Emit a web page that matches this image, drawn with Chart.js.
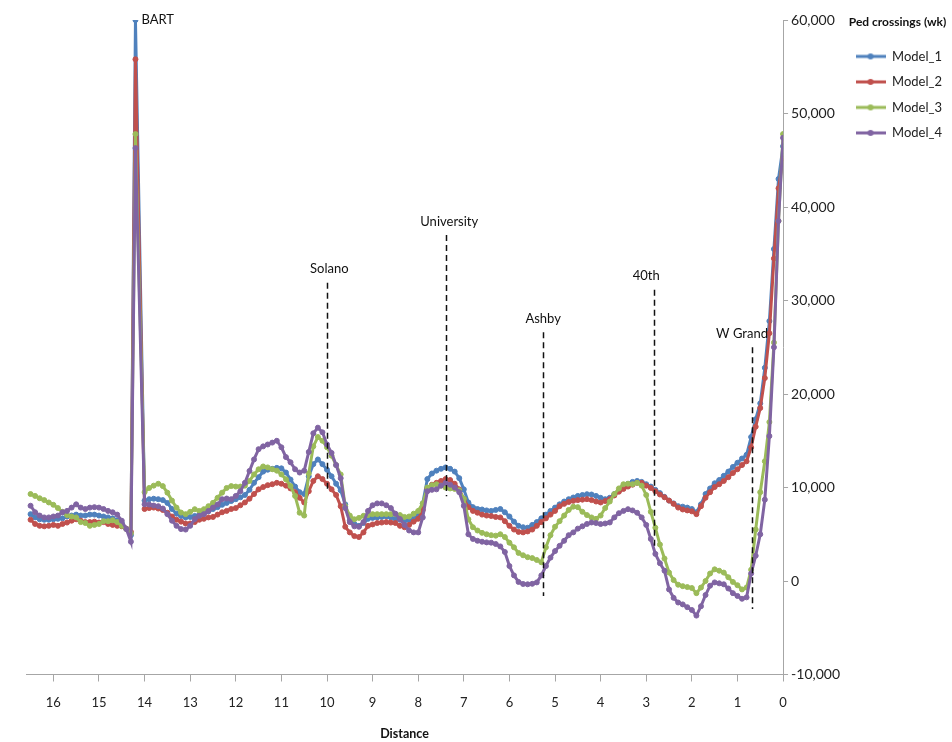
<!DOCTYPE html>
<html>
<head>
<meta charset="utf-8">
<title>Ped crossings (wk)</title>
<script src="https://cdn.jsdelivr.net/npm/chart.js@4/dist/chart.umd.min.js"></script>
<style>
  html, body { margin: 0; padding: 0; background: #fff; }
  #wrap { width: 952px; height: 742px; }
</style>
</head>
<body>
<div id="wrap"><canvas id="chart"></canvas></div>
<script>
// --- Datos (distancia en millas, cruces peatonales por semana) ---
const distances = [
  16.5, 16.4, 16.3, 16.2, 16.1, 16.0, 15.9, 15.8, 15.7, 15.6,
  15.5, 15.4, 15.3, 15.2, 15.1, 15.0, 14.9, 14.8, 14.7, 14.6,
  14.5, 14.4, 14.3, 14.2,
  14.0, 13.9, 13.8, 13.7, 13.6, 13.5, 13.4, 13.3, 13.2, 13.1,
  13.0, 12.9, 12.8, 12.7, 12.6, 12.5, 12.4, 12.3, 12.2, 12.1,
  12.0, 11.9, 11.8, 11.7, 11.6, 11.5, 11.4, 11.3, 11.2, 11.1,
  11.0, 10.9, 10.8, 10.7, 10.6, 10.5, 10.4, 10.3, 10.2, 10.1,
  10.0, 9.9, 9.8, 9.7, 9.6, 9.5, 9.4, 9.3, 9.2, 9.1,
  9.0, 8.9, 8.8, 8.7, 8.6, 8.5, 8.4, 8.3, 8.2, 8.1,
  8.0, 7.9, 7.8, 7.7, 7.6, 7.5, 7.4, 7.3, 7.2, 7.1,
  7.0, 6.9, 6.8, 6.7, 6.6, 6.5, 6.4, 6.3, 6.2, 6.1,
  6.0, 5.9, 5.8, 5.7, 5.6, 5.5, 5.4, 5.3, 5.2, 5.1,
  5.0, 4.9, 4.8, 4.7, 4.6, 4.5, 4.4, 4.3, 4.2, 4.1,
  4.0, 3.9, 3.8, 3.7, 3.6, 3.5, 3.4, 3.3, 3.2, 3.1,
  3.0, 2.9, 2.8, 2.7, 2.6, 2.5, 2.4, 2.3, 2.2, 2.1,
  2.0, 1.9, 1.8, 1.7, 1.6, 1.5, 1.4, 1.3, 1.2, 1.1,
  1.0, 0.9, 0.8, 0.7, 0.6, 0.5, 0.4, 0.3, 0.2, 0.1,
  0.0
];

const model1 = [
  7150, 6800, 6600, 6550, 6550, 6600, 6650, 6700, 6900, 7000,
  7100, 7000, 7000, 7100, 7100, 7000, 6900, 6800, 6700, 6500,
  6200, 5600, 4900, 60000,
  8600, 8750, 8800, 8750, 8650, 8350, 7700, 7200, 6950, 6800,
  6850, 6950, 7100, 7250, 7450, 7700, 7900, 8150, 8350, 8550,
  8750, 8950, 9200, 9750, 10500, 11100, 11700, 11900, 12000, 12100,
  12050, 11600, 10850, 10100, 9500, 9300, 11200, 12500, 13000, 12500,
  11900, 11200, 10400, 9700, 8200, 6450, 6100, 5900, 6200, 6650,
  6750, 6800, 6850, 6900, 6800, 6650, 6550, 6450, 6500, 6650,
  7000, 8300, 10900, 11500, 11800, 12000, 12150, 12000, 11700, 11000,
  9800, 8400, 7900, 7700, 7650, 7550, 7500, 7600, 7700, 7350,
  6900, 6350, 5900, 5750, 5700, 6000, 6300, 6700, 7100, 7500,
  7850, 8200, 8500, 8750, 8930, 9100, 9200, 9280, 9250, 9100,
  8900, 8750, 8900, 9300, 9650, 10100, 10400, 10600, 10700, 10600,
  10350, 10100, 9750, 9400, 9000, 8600, 8300, 8000, 7950, 7850,
  7700, 7350, 8200, 9300, 9900, 10450, 10800, 11250, 11700, 12200,
  12650, 13100, 13500, 15400, 17300, 19000, 22800, 27800, 35500, 43000,
  46500
];

const model2 = [
  6550, 6100, 5900, 5850, 5900, 6000, 5900, 6100, 6250, 6450,
  6600, 6450, 6300, 6300, 6350, 6250, 6300, 6100, 6000, 5900,
  5850, 5600, 5250, 55800,
  7700, 7800, 7850, 7750, 7600, 7300, 6900, 6550, 6350, 6150,
  6150, 6300, 6550, 6650, 6800, 6850, 7100, 7350, 7500, 7700,
  7800, 8100, 8400, 8800, 9300, 9800, 10050, 10250, 10350, 10500,
  10400, 10200, 9900, 9500, 8900, 8400, 9600, 10700, 11200, 10900,
  10400, 9800, 9200, 8000, 5800, 5200, 4800, 4700, 5200, 5900,
  6050, 6200, 6250, 6300, 6250, 6200, 5900, 5750, 6000, 6350,
  6650, 7600, 9900, 10300, 10500, 10700, 10900, 10800, 10400, 9800,
  8750, 7900, 7500, 7300, 7100, 7000, 6950, 6850, 6800, 6400,
  5900, 5500, 5250, 5200, 5300, 5500, 5900, 6300, 6700, 7100,
  7500, 8000, 8250, 8450, 8570, 8650, 8700, 8750, 8650, 8500,
  8400, 8550, 8750, 9150, 9550, 9850, 10100, 10300, 10500, 10500,
  10200, 9950, 9600, 9250, 8950, 8600, 8250, 7850, 7650, 7550,
  7450, 7150, 8000, 8900, 9500, 10050, 10350, 10700, 11100, 11550,
  11950, 12400, 12800, 14300, 16500, 18500, 21700, 26500, 34500, 42000,
  45200
];

const model3 = [
  9300, 9100, 8850, 8650, 8400, 8150, 7800, 7400, 7050, 6900,
  6800, 6300, 6200, 5900, 6000, 6100, 6400, 6400, 6500, 6300,
  5900, 5550, 5100, 47800,
  9500, 9950, 10200, 10400, 10150, 9450, 8600, 7850, 7320, 7150,
  7400, 7680, 7500, 7680, 8000, 8360, 8900, 9450, 9950, 10150,
  10100, 10100, 10200, 10700, 11400, 11950, 12250, 12150, 11950, 11800,
  11400, 10880, 10150, 9100, 7300, 7000, 11500, 14400, 15400, 15000,
  14300, 13400, 12400, 11400, 8000, 7000, 6600, 6750, 6970, 7050,
  7150, 7150, 7150, 7150, 7150, 7150, 7050, 6850, 6900, 7200,
  7500, 8300, 10000, 10250, 10350, 10200, 10000, 9900, 9850, 9700,
  8800, 6600, 5750, 5400, 5150, 5000, 4900, 4850, 5000, 4700,
  4100, 3600, 3000, 2750, 2550, 2450, 2250, 2000, 3600, 4900,
  5800, 6400, 7000, 7600, 7950, 7900, 7400, 7050, 6800, 6650,
  7000, 7800, 8500, 9300, 9900, 10350, 10400, 10350, 10500, 10200,
  9200, 7400, 5700, 3900, 2400, 900, 100, -400, -550, -650,
  -750, -1300, -700, 0, 800, 1250, 1100, 900, 400, -100,
  -450, -900, -700, 1200, 5500, 9500, 12800, 17000, 25500, 38500,
  47800
];

const model4 = [
  8050, 7350, 7000, 6800, 6800, 6900, 7000, 7350, 7500, 7850,
  8200, 7850, 7700, 7850, 7900, 7850, 7700, 7500, 7350, 7100,
  6450, 5550, 4200, 46300,
  8200, 8180, 8070, 8000, 7750, 7150, 6450, 5900, 5550, 5500,
  5900, 6620, 6970, 7150, 7500, 7850, 8180, 8750, 8820, 8750,
  9100, 9600, 10500, 11770, 13000, 14100, 14400, 14600, 14800, 15000,
  14300, 13250, 12700, 11950, 11600, 11800, 13800, 15800, 16400, 15900,
  14600, 13700, 12400, 11000, 7800, 6300, 5850, 5800, 6300, 7500,
  8100, 8300, 8300, 8100, 7800, 7200, 6620, 6000, 5400, 5200,
  5200, 6800, 9600, 9750, 9800, 10200, 10500, 10300, 10000, 9500,
  8040, 5000, 4500, 4300, 4200, 4130, 4100, 3960, 3700, 3100,
  1600, 600, -100, -320, -350, -300, -150, 600, 1600, 2500,
  3200, 3760, 4300, 4900, 5200, 5600, 5850, 6100, 6260, 6200,
  6090, 6150, 6260, 6800, 7250, 7500, 7680, 7550, 7300, 6800,
  6000, 4500, 2900, 1900, 1100, -900, -1800, -2300, -2500, -2800,
  -3100, -3700, -2700, -1500, -500, -150, -250, -350, -800, -1300,
  -1600, -1900, -1750, 800, 2700, 5000, 8700, 15500, 25000, 38500,
  47400
];

const seriesNames = ['Model_1', 'Model_2', 'Model_3', 'Model_4'];
const seriesValues = [model1, model2, model3, model4];
const seriesColors = ['#4F81BD', '#C0504D', '#9BBB59', '#8064A2'];

const xTicks = [16, 15, 14, 13, 12, 11, 10, 9, 8, 7, 6, 5, 4, 3, 2, 1, 0];
const yTicks = [60000, 50000, 40000, 30000, 20000, 10000, 0, -10000];

// Estaciones: posición (millas) y extremos de la línea discontinua (en valores del eje Y)
const stationNames = ['Solano', 'University', 'Ashby', '40th', 'W Grand'];
const stationDist = [10.0, 7.38, 5.26, 2.83, 0.68];
const stationTop = [31900, 37000, 26600, 31150, 25000];
const stationBottom = [9800, 9070, -1600, 3400, -3000];
const stationLabelDist = [9.95, 7.32, 5.26, 3.0, 0.9];

const bartLabel = 'BART';
const bartDist = 14.2;
const bartValue = 60000;

Chart.defaults.font.family = 'Lato, "Noto Sans", sans-serif';
Chart.defaults.color = '#222';

// Icono de leyenda estilo Excel: línea con punto en el centro
function legendSwatch(color) {
  const c = document.createElement('canvas');
  c.width = 30;
  c.height = 8;
  const g = c.getContext('2d');
  g.strokeStyle = color;
  g.lineWidth = 3;
  g.beginPath();
  g.moveTo(0, 4);
  g.lineTo(30, 4);
  g.stroke();
  g.fillStyle = color;
  g.beginPath();
  g.arc(15, 4, 3, 0, Math.PI * 2);
  g.fill();
  return c;
}
const swatches = seriesColors.map(legendSwatch);

// Líneas discontinuas y etiquetas de las estaciones
const stationPlugin = {
  id: 'stations',
  afterDatasetsDraw(chart) {
    const { ctx, scales: { x, y } } = chart;
    ctx.save();
    ctx.strokeStyle = '#111';
    ctx.lineWidth = 1.5;
    ctx.setLineDash([6, 4]);
    stationNames.forEach((name, i) => {
      const px = Math.round(x.getPixelForValue(stationDist[i])) + 0.5;
      ctx.beginPath();
      ctx.moveTo(px, y.getPixelForValue(stationTop[i]));
      ctx.lineTo(px, y.getPixelForValue(stationBottom[i]));
      ctx.stroke();
    });
    ctx.setLineDash([]);
    ctx.fillStyle = '#111';
    ctx.font = '13px Lato, "Noto Sans", sans-serif';
    ctx.textAlign = 'center';
    ctx.textBaseline = 'bottom';
    stationNames.forEach((name, i) => {
      ctx.fillText(name, x.getPixelForValue(stationLabelDist[i]), y.getPixelForValue(stationTop[i]) - 7);
    });
    ctx.textAlign = 'left';
    ctx.textBaseline = 'middle';
    ctx.fillText(bartLabel, x.getPixelForValue(bartDist) + 6, y.getPixelForValue(bartValue));
    ctx.restore();
  }
};

const datasets = seriesNames.map((name, i) => ({
  label: name,
  data: distances.map((d, j) => ({ x: d, y: seriesValues[i][j] })),
  borderColor: seriesColors[i],
  backgroundColor: seriesColors[i],
  pointBackgroundColor: seriesColors[i],
  pointBorderColor: seriesColors[i],
  borderWidth: 3,
  pointRadius: 2.5,
  pointBorderWidth: 1,
  tension: 0,
  order: seriesNames.length - 1 - i // Model_4 queda encima, como en el original
}));

new Chart(document.getElementById('chart'), {
  type: 'line',
  data: { datasets },
  plugins: [stationPlugin],
  options: {
    responsive: true,
    maintainAspectRatio: false,
    animation: false,
    events: [],
    layout: { padding: { left: 26, top: 12, right: 0, bottom: 2 } },
    scales: {
      x: {
        type: 'linear',
        reverse: true,
        min: 0,
        max: 16.6,
        afterBuildTicks: s => { s.ticks = xTicks.map(v => ({ value: v })); },
        grid: { drawOnChartArea: false, drawTicks: true, tickLength: 7, color: '#a6a6a6' },
        border: { color: '#a6a6a6', width: 1 },
        ticks: { padding: 15, font: { size: 13, lineHeight: 1 }, color: '#222', maxRotation: 0, autoSkip: false },
        title: { display: true, text: 'Distance', font: { weight: 'bold', size: 12.5, lineHeight: 1 }, color: '#111', padding: { top: 3, bottom: 0 } }
      },
      y: {
        position: 'right',
        min: -10000,
        max: 60000,
        afterBuildTicks: s => { s.ticks = yTicks.map(v => ({ value: v })); },
        // deja el área del gráfico un poco más abajo que la leyenda
        afterFit: s => { s.paddingTop = 20; },
        grid: { drawOnChartArea: false, drawTicks: true, tickLength: 5, color: '#a6a6a6' },
        border: { color: '#a6a6a6', width: 1 },
        ticks: { padding: 3, font: { size: 14 }, color: '#222', callback: v => v.toLocaleString('en-US') }
      }
    },
    plugins: {
      tooltip: { enabled: false },
      legend: {
        position: 'right',
        align: 'start',
        title: {
          display: true,
          text: 'Ped crossings (wk)',
          font: { weight: 'bold', size: 12 },
          color: '#111',
          padding: { top: 4, bottom: 7 }
        },
        labels: {
          usePointStyle: true,
          pointStyleWidth: 30,
          padding: 12.5,
          font: { size: 13 },
          color: '#222',
          sort: (a, b) => a.datasetIndex - b.datasetIndex,
          generateLabels: chart => {
            const items = Chart.defaults.plugins.legend.labels.generateLabels(chart);
            items.forEach(it => { it.pointStyle = swatches[it.datasetIndex]; });
            return items;
          }
        }
      }
    }
  }
});
</script>
</body>
</html>
